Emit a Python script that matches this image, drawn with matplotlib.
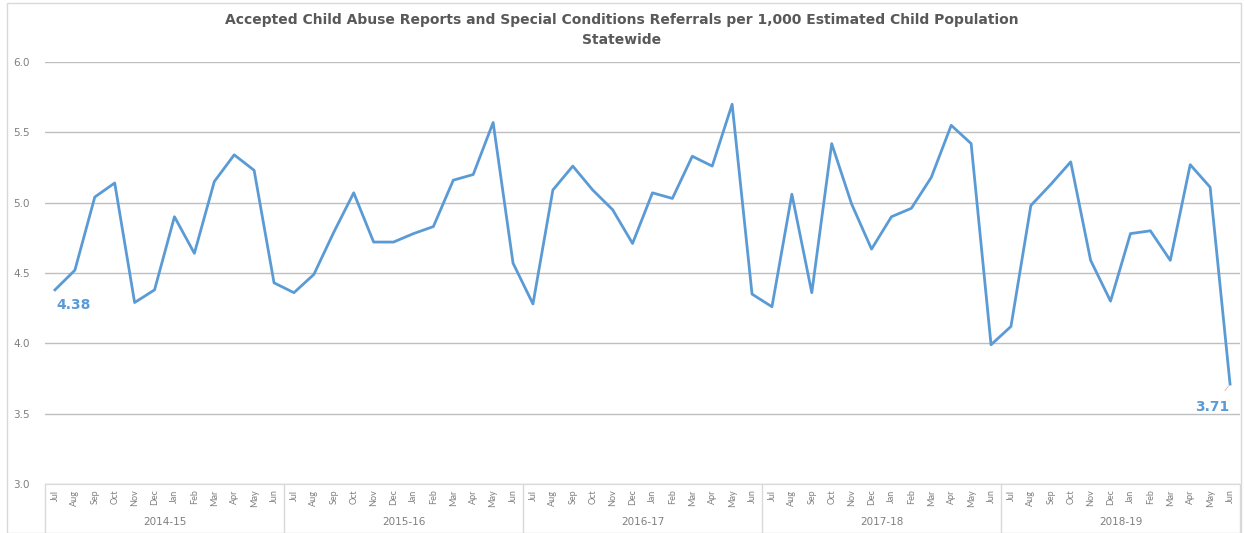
import matplotlib.pyplot as plt
from matplotlib.patches import Rectangle

plt.rcParams['font.family'] = ['Lato', 'DejaVu Sans']

# monthly values, Jul 2014 .. Jun 2019
months = ['Jul', 'Aug', 'Sep', 'Oct', 'Nov', 'Dec', 'Jan', 'Feb', 'Mar', 'Apr', 'May', 'Jun']
years = ['2014-15', '2015-16', '2016-17', '2017-18', '2018-19']
fy2015 = [4.38, 4.52, 5.04, 5.14, 4.29, 4.38, 4.90, 4.64, 5.15, 5.34, 5.23, 4.43]
fy2016 = [4.36, 4.49, 4.79, 5.07, 4.72, 4.72, 4.78, 4.83, 5.16, 5.20, 5.57, 4.57]
fy2017 = [4.28, 5.09, 5.26, 5.09, 4.95, 4.71, 5.07, 5.03, 5.33, 5.26, 5.70, 4.35]
fy2018 = [4.26, 5.06, 4.36, 5.42, 4.99, 4.67, 4.90, 4.96, 5.18, 5.55, 5.42, 3.99]
fy2019 = [4.12, 4.98, 5.13, 5.29, 4.59, 4.30, 4.78, 4.80, 4.59, 5.27, 5.11, 3.71]

values = fy2015 + fy2016 + fy2017 + fy2018 + fy2019
x = list(range(len(values)))
blue = '#5B9BD5'
grey_txt = '#7f7f7f'
wide = ['DejaVu Sans']

W, H = 1244, 533
fig = plt.figure(figsize=(W / 100, H / 100), dpi=100)
fig.patches.append(Rectangle((7 / W, 0), 1234 / W, 530 / H, transform=fig.transFigure,
                             fill=False, edgecolor='#d9d9d9', lw=1))

left, right, top, bottom = 45, 1240, 62, 484
ax = fig.add_axes([left / W, 1 - bottom / H, (right - left) / W, (bottom - top) / H])
ax.plot(x, values, color=blue, lw=2.0)

ax.set_xlim(-0.5, len(values) - 0.5)
ax.set_ylim(3.0, 6.0)
ax.set_yticks([3.0, 3.5, 4.0, 4.5, 5.0, 5.5, 6.0])
ax.set_yticklabels(['%.1f' % v for v in ax.get_yticks()], fontsize=7.5, color=grey_txt, family=wide)
ax.yaxis.grid(True, color='#bfbfbf', lw=1)
ax.set_axisbelow(True)
for s in ['top', 'right', 'left']:
    ax.spines[s].set_visible(False)
ax.spines['bottom'].set_color('#d9d9d9')
ax.tick_params(axis='y', length=0, pad=11)

ax.set_xticks(x)
ax.set_xticklabels(months * len(years), rotation=90, fontsize=6.5, color=grey_txt)
ax.tick_params(axis='x', length=0, pad=4)

# year groups under the month labels
trans = ax.get_xaxis_transform()
depth = -(H - bottom) / (bottom - top)
for i in range(len(years) + 1):
    ax.plot([i * 12 - 0.5] * 2, [0, depth], color='#d9d9d9', lw=1, transform=trans, clip_on=False)
for i, yr in enumerate(years):
    ax.text(i * 12 + 5.5, -(522 - bottom) / (bottom - top), yr, transform=trans,
            ha='center', va='center', fontsize=7.5, color=grey_txt, family=wide)

ax.annotate('%.2f' % values[0], (x[0], values[0]), xytext=(19, -15), textcoords='offset pixels',
            ha='center', va='center', fontsize=10, fontweight='bold', color=blue, family=wide)
ax.annotate('%.2f' % values[-1], (x[-1], values[-1]), xytext=(-18, -23), textcoords='offset pixels',
            ha='center', va='center', fontsize=10, fontweight='bold', color=blue, family=wide,
            arrowprops=dict(arrowstyle='-', color='#e0b0b0', lw=0.6, shrinkA=6, shrinkB=2))

fig.text(0.5, 1 - 20 / H, 'Accepted Child Abuse Reports and Special Conditions Referrals per 1,000 Estimated Child Population',
         ha='center', va='center', fontsize=10, fontweight='bold', color='#595959', family=wide)
fig.text(0.5, 1 - 40 / H, 'Statewide', ha='center', va='center', fontsize=10,
         fontweight='bold', color='#595959', family=wide)

fig.savefig('out.png', dpi=100)
